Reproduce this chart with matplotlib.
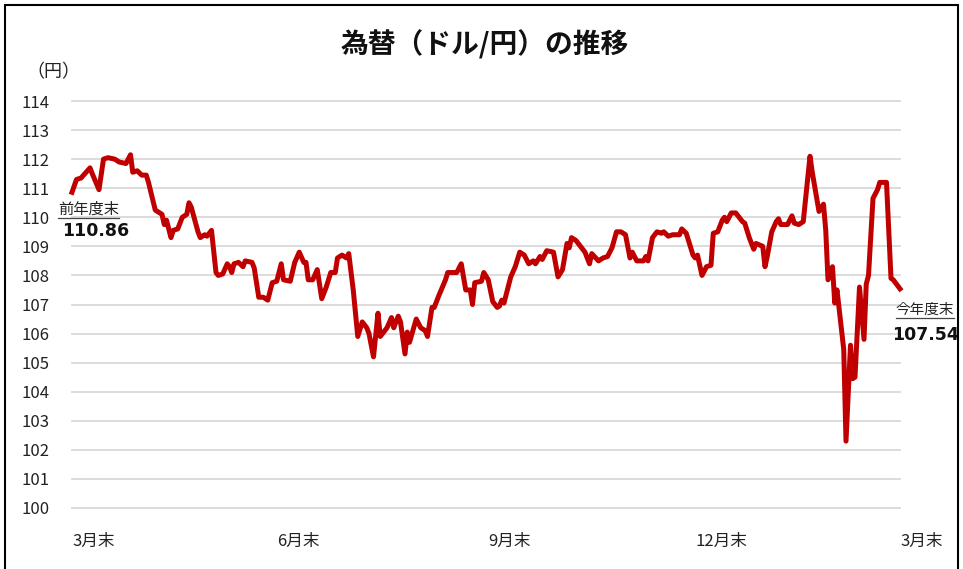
import numpy as np
import matplotlib.pyplot as plt
from matplotlib.patches import Rectangle
from matplotlib.lines import Line2D

plt.rcParams['font.family'] = ['Noto Sans CJK JP', 'DejaVu Sans']

# days since end of March 2019
days = [0, 2, 4, 8, 9, 12, 14, 16, 19, 21, 24, 26, 27, 29, 31, 33, 34, 37, 40, 41,
        42, 44, 45, 47, 49, 51, 52, 53, 56, 57, 59, 60, 62, 64, 65, 67, 69, 70, 71, 72,
        74, 76, 77, 80, 81, 83, 85, 87, 89, 91, 93, 94, 97, 99, 101, 103, 104, 105, 107, 109,
        111, 113, 115, 117, 118, 120, 122, 123, 125, 127, 129, 131, 132, 134, 136, 137, 140, 142, 143, 145,
        146, 148, 149, 150, 153, 155, 157, 158, 160, 161, 163, 166, 167, 169, 171, 173, 175, 177, 178, 179,
        182, 183, 185, 187, 189, 190, 191, 192, 195, 197, 199, 201, 203, 205, 206, 208, 209, 211, 214, 216,
        218, 220, 221, 222, 224, 226, 228, 230, 231, 234, 236, 238, 240, 242, 244, 246, 248, 249, 251, 254,
        255, 256, 258, 260, 262, 263, 265, 267, 270, 271, 273, 276, 277, 278, 280, 282, 284, 285, 287, 289,
        290, 291, 293, 295, 298, 299, 301, 303, 304, 307, 308, 309, 311, 313, 314, 315, 318, 320, 321, 323,
        325, 328, 329, 331, 332, 334, 335, 336, 338, 339, 340, 343, 344, 346, 347, 348, 350, 352, 353, 354,
        356, 358, 359, 362, 364, 365, 368]
rates = [110.86, 111.30, 111.35, 111.70, 111.50, 110.95, 112.00, 112.05, 112.00, 111.90,
         111.85, 112.15, 111.55, 111.60, 111.45, 111.45, 111.20, 110.25, 110.10, 109.75,
         109.90, 109.30, 109.55, 109.60, 110.00, 110.10, 110.50, 110.35, 109.50, 109.30,
         109.40, 109.35, 109.55, 108.10, 108.00, 108.05, 108.40, 108.30, 108.10, 108.40,
         108.45, 108.30, 108.50, 108.45, 108.25, 107.25, 107.25, 107.15, 107.75, 107.80,
         108.40, 107.85, 107.80, 108.45, 108.80, 108.45, 108.45, 107.85, 107.85, 108.20,
         107.20, 107.60, 108.10, 108.10, 108.60, 108.70, 108.60, 108.75, 107.50, 105.90,
         106.40, 106.20, 106.00, 105.20, 106.70, 105.90, 106.20, 106.55, 106.20, 106.60,
         106.40, 105.30, 106.05, 105.70, 106.50, 106.20, 106.10, 105.90, 106.90, 106.90,
         107.30, 107.85, 108.10, 108.10, 108.10, 108.40, 107.50, 107.50, 107.00, 107.75,
         107.80, 108.10, 107.85, 107.10, 106.90, 106.95, 107.15, 107.05, 107.95, 108.30,
         108.80, 108.70, 108.40, 108.50, 108.40, 108.65, 108.55, 108.85, 108.80, 107.95,
         108.20, 109.10, 108.95, 109.30, 109.20, 109.00, 108.80, 108.40, 108.75, 108.50,
         108.60, 108.65, 108.95, 109.50, 109.50, 109.40, 108.60, 108.80, 108.50, 108.50,
         108.65, 108.50, 109.30, 109.50, 109.45, 109.50, 109.35, 109.40, 109.40, 109.60,
         109.45, 108.70, 108.60, 108.70, 108.00, 108.30, 108.35, 109.45, 109.50, 109.90,
         110.00, 109.85, 110.15, 110.15, 109.85, 109.80, 109.30, 108.90, 109.10, 109.00,
         108.30, 108.65, 109.50, 109.85, 109.95, 109.75, 109.75, 110.05, 109.80, 109.75,
         109.85, 112.10, 111.55, 110.65, 110.20, 110.45, 109.55, 107.85, 108.30, 107.05,
         107.50, 105.45, 102.30, 105.60, 104.45, 104.50, 107.60, 105.80, 107.70, 108.00,
         110.65, 110.95, 111.20, 111.20, 107.90, 107.85, 107.54]

tick_days = [0, 91, 185, 277, 368]
tick_labels = ['3月末', '6月末', '9月末', '12月末', '3月末']
y_ticks = list(range(100, 115))

fig = plt.figure(figsize=(9.63, 5.69), dpi=100)
ax = fig.add_axes([72 / 963, 61 / 569, 828 / 963, 407 / 569])

for v in y_ticks:
    ax.axhline(v, color='#d9d9d9', lw=1.3, zorder=1, clip_on=False)

ax.plot(days, rates, color='#c00000', lw=3.6, solid_joinstyle='round', zorder=3, clip_on=False)

ax.set_xlim(0, 368)
ax.set_ylim(100, 114)
ax.set_yticks(y_ticks)
ax.set_yticklabels([str(v) for v in y_ticks], fontsize=12, color='#222222')
ax.set_xticks(tick_days)
ax.set_xticklabels(tick_labels, fontsize=12, color='#222222', ha='left')
ax.tick_params(axis='y', length=0, pad=16)
ax.tick_params(axis='x', length=0, pad=18)
for s in ax.spines.values():
    s.set_visible(False)

fig.text(485 / 963, 1 - 45 / 569, '為替（ドル/円）の推移', ha='center', va='center',
         fontsize=20, fontweight='bold', color='#111111')
fig.text(53 / 963, 1 - 72 / 569, '（円）', ha='center', va='center', fontsize=13, color='#222222')

# start / end annotations
t1 = ax.annotate('前年度末', xy=(days[0], rates[0]), xytext=(12, -12),
                 textcoords='offset points', ha='center', va='center', fontsize=11, color='#222222')
ax.annotate(f'{rates[0]:.2f}', xy=(days[0], rates[0]), xytext=(17, -28),
            textcoords='offset points', ha='center', va='center', fontsize=12.5,
            fontweight='bold', family='DejaVu Sans', color='#111111')
t2 = ax.annotate('今年度末', xy=(days[-1], rates[-1]), xytext=(18, -15),
                 textcoords='offset points', ha='center', va='center', fontsize=10.5, color='#222222')
ax.annotate(f'{rates[-1]:.2f}', xy=(days[-1], rates[-1]), xytext=(18, -33),
            textcoords='offset points', ha='center', va='center', fontsize=12.5,
            fontweight='bold', family='DejaVu Sans', color='#111111')

# underline the two labels
renderer = fig.canvas.get_renderer()
for t in (t1, t2):
    bb = t.get_window_extent(renderer)
    y = bb.y0 - 1
    fig.add_artist(Line2D([bb.x0 / 963, bb.x1 / 963], [y / 569, y / 569],
                          color='#444444', lw=0.9))

# outer frame
fig.add_artist(Rectangle((5 / 963, -0.05), 953 / 963, 1.05 - 5 / 569, fill=False,
                         edgecolor='black', lw=1.5, transform=fig.transFigure))

fig.savefig('out.png', dpi=100)
